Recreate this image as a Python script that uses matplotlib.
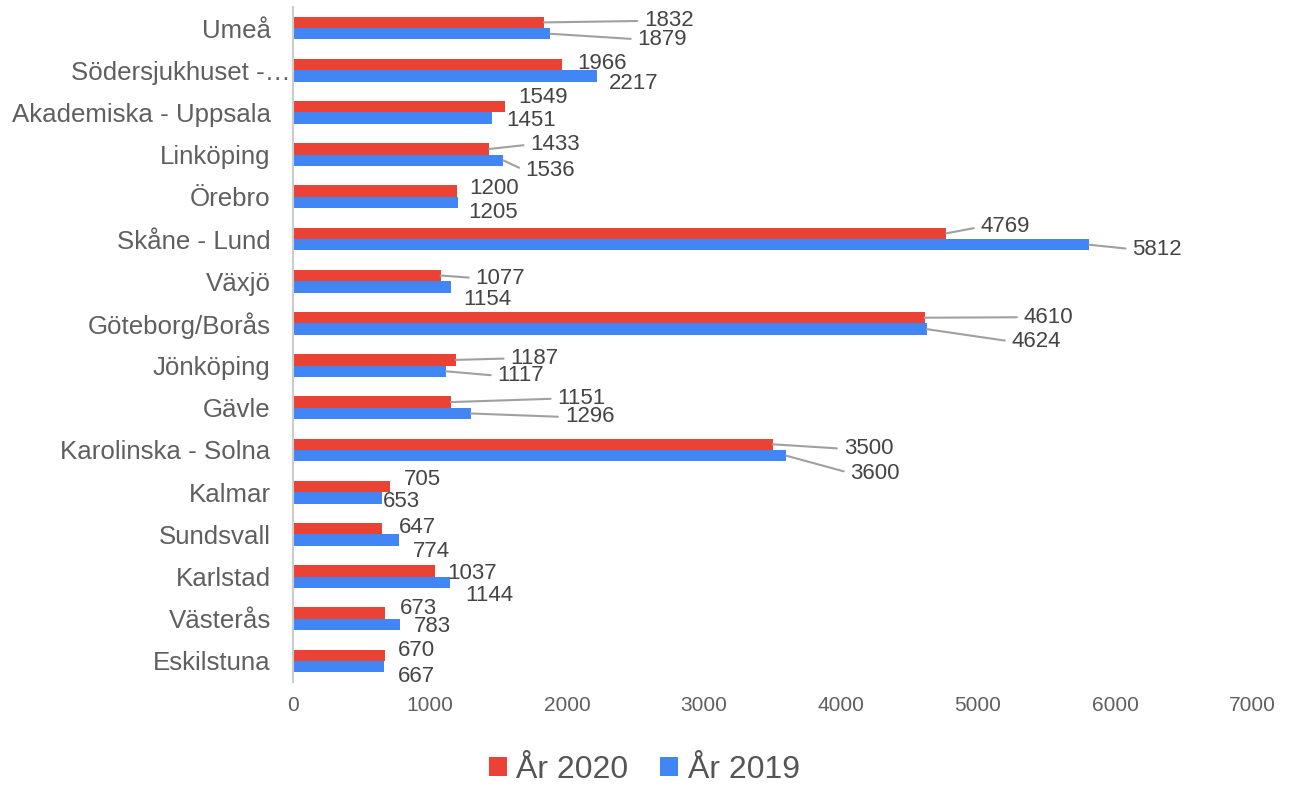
import matplotlib
matplotlib.use("Agg")
import matplotlib.pyplot as plt
import matplotlib.transforms as mtrans
import numpy as np

plt.rcParams['font.family'] = ['Liberation Sans', 'DejaVu Sans']

# data
sites = ["Umeå", "Södersjukhuset -…", "Akademiska - Uppsala", "Linköping", "Örebro",
         "Skåne - Lund", "Växjö", "Göteborg/Borås", "Jönköping", "Gävle",
         "Karolinska - Solna", "Kalmar", "Sundsvall", "Karlstad", "Västerås", "Eskilstuna"]
year_2020 = [1832, 1966, 1549, 1433, 1200, 4769, 1077, 4610, 1187, 1151, 3500, 705, 647, 1037, 673, 670]
year_2019 = [1879, 2217, 1451, 1536, 1205, 5812, 1154, 4624, 1117, 1296, 3600, 653, 774, 1144, 783, 667]

# label offsets from bar end (pixels: dx right, dy down) and whether a leader line is drawn
off_2020 = [(125, -4), (40, -4), (38, -12), (66, -7), (37, -5), (59, -9), (60, 0), (124, -3),
            (79, -4), (131, -6), (96, 2), (33, -9), (36, -4), (37, 0), (33, -7), (32, -7)]
off_2019 = [(112, 3), (37, 5), (39, 0), (47, 8), (35, 7), (68, 2), (36, 10), (110, 10),
            (75, 2), (119, 1), (89, 15), (19, 1), (32, 9), (40, 11), (32, 0), (32, 7)]
line_2020 = [1, 0, 0, 1, 0, 1, 1, 1, 1, 1, 1, 0, 0, 0, 0, 0]
line_2019 = [1, 0, 0, 1, 0, 1, 0, 1, 1, 1, 1, 0, 0, 0, 0, 0]

red = "#EA4335"
blue = "#4285F4"

fig = plt.figure(figsize=(12.94, 7.87), dpi=100)
ax = fig.add_axes([0.2264, 0.1334, 0.7412, 0.8577])

y = np.arange(len(sites))
h = 0.27
b1 = ax.barh(y - h / 2, year_2020, height=h, color=red, label="År 2020")
b2 = ax.barh(y + h / 2, year_2019, height=h, color=blue, label="År 2019")

ax.set_ylim(len(sites) - 0.5, -0.5)
ax.set_xlim(0, 7000)
ax.set_xticks(range(0, 7001, 1000))
ax.set_yticks(y)
ax.set_yticklabels(sites)

for s in ["top", "right", "bottom"]:
    ax.spines[s].set_visible(False)
ax.spines["left"].set_color("#cccccc")
ax.spines["left"].set_linewidth(1.5)
ax.tick_params(axis="x", length=0, pad=10, labelsize=15, labelcolor="#5f5f5f")
ax.tick_params(axis="y", length=0, pad=16, labelsize=18.6, labelcolor="#5f5f5f")

# the truncated label sits closer to the axis
lbl = ax.get_yticklabels()[1]
lbl.set_transform(lbl.get_transform() + mtrans.ScaledTranslation(0.2, 0, fig.dpi_scale_trans))


def put_labels(vals, ys, offs, lines):
    for v, yy, (dx, dy), ln in zip(vals, ys, offs, lines):
        props = None
        if ln:
            props = dict(arrowstyle="-", color="#a0a0a0", lw=1.5,
                         relpos=(0, 0.5), shrinkA=3, shrinkB=0)
        ax.annotate(str(v), xy=(v, yy), xytext=(dx * 0.72, -(dy + 8) * 0.72),
                    textcoords="offset points", ha="center", va="baseline",
                    fontsize=16, color="#444444", arrowprops=props)


put_labels(year_2020, y - h / 2, off_2020, line_2020)
put_labels(year_2019, y + h / 2, off_2019, line_2019)

fig.legend(handles=[b1, b2], loc="center", bbox_to_anchor=(0.498, 0.022),
           ncol=2, frameon=False, fontsize=23, handlelength=0.55, handleheight=0.55,
           handletextpad=0.3, columnspacing=1.0, labelcolor="#555555")

fig.savefig("out.png", dpi=100)
